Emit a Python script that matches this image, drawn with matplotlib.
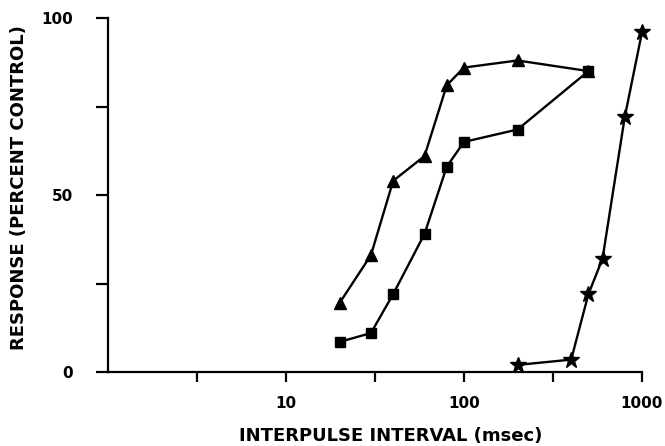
import numpy as np
import matplotlib.pyplot as plt

# interpulse interval (msec) and response (percent control)
tri_x = [20, 30, 40, 60, 80, 100, 200, 500]
tri_y = [19.5, 33, 54, 61, 81, 86, 88, 85]

sq_x = [20, 30, 40, 60, 80, 100, 200, 500]
sq_y = [8.5, 11, 22, 39, 58, 65, 68.5, 85]

star_x = [200, 400, 500, 600, 800, 1000]
star_y = [2, 3.5, 22, 32, 72, 96]

plt.rcParams['font.family'] = 'DejaVu Sans'
plt.rcParams['font.weight'] = 'bold'

fig = plt.figure(figsize=(6.65, 4.46), dpi=100)
ax = fig.add_axes([108/665, 1-372/446, (642-108)/665, (372-18)/446])

ax.plot(tri_x, tri_y, color='k', lw=1.7, marker='^', ms=8, clip_on=False, zorder=3)
ax.plot(sq_x, sq_y, color='k', lw=1.7, marker='s', ms=7, clip_on=False, zorder=4)
ax.plot(star_x, star_y, color='k', lw=1.7, marker='*', ms=12, clip_on=False, zorder=3)

ax.set_xscale('log')
ax.set_xlim(1, 1000)
ax.set_ylim(0, 100)

xt = [10**0.5, 10, 10**1.5, 100, 10**2.5, 1000]
ax.set_xticks(xt)
ax.set_xticklabels(['', '10', '', '100', '', '1000'])
ax.xaxis.set_minor_locator(plt.NullLocator())
ax.set_yticks([0, 25, 50, 75, 100])
ax.set_yticklabels(['0', '', '50', '', '100'])

for s in ['top', 'right']:
    ax.spines[s].set_visible(False)
for s in ['left', 'bottom']:
    ax.spines[s].set_linewidth(1.6)

ax.tick_params(axis='x', length=7, width=1.6, pad=10, labelsize=11)
ax.tick_params(axis='y', length=9, width=1.6, pad=16, labelsize=11)
for lab in ax.get_xticklabels() + ax.get_yticklabels():
    lab.set_fontweight('bold')

ax.set_xlabel('INTERPULSE INTERVAL (msec)', fontsize=13, fontweight='bold')
ax.set_ylabel('RESPONSE (PERCENT CONTROL)', fontsize=13, fontweight='bold')
ax.xaxis.set_label_coords(0.53, -0.155)
ax.yaxis.set_label_coords(-0.15, 0.52)

fig.savefig('out.png', dpi=100)
